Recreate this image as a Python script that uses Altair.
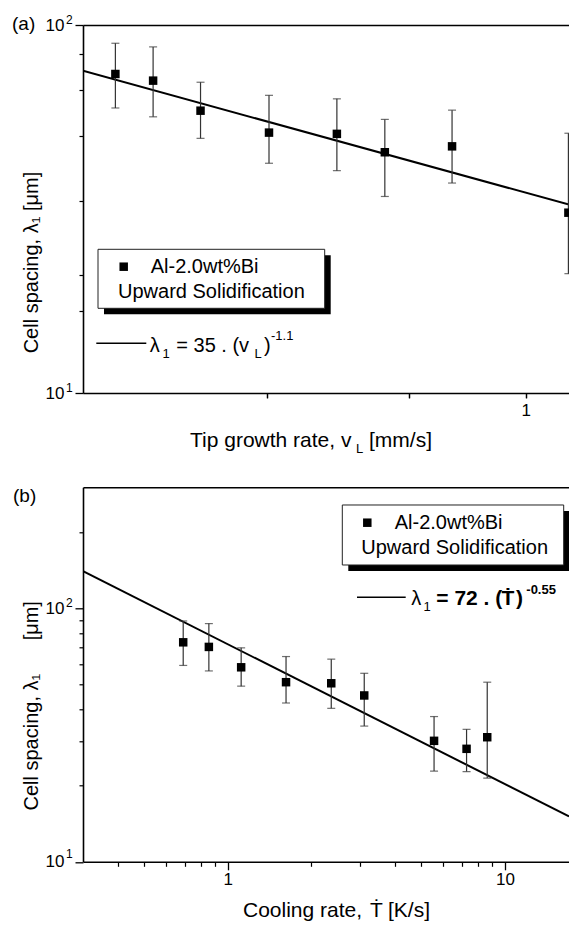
import altair as alt
import pandas as pd

FONT = "Liberation Sans"
NB = "\u00a0"

# ---------------- panel (a) data ----------------
growth_rate = [0.526, 0.558, 0.601, 0.669, 0.744, 0.802, 0.891, 1.069]
spacing_a = [73.6, 70.6, 58.5, 51.0, 50.6, 45.1, 46.8, 30.9]
spacing_a_hi = [89.2, 87.2, 69.9, 64.4, 63.0, 55.4, 58.7, 50.8]
spacing_a_lo = [59.5, 56.3, 49.2, 42.1, 40.2, 34.2, 37.2, 21.1]
fit_a_x = [0.5, 1.070]
fit_a_y = [75.1, 32.5]

# ---------------- panel (b) data ----------------
cooling_rate = [0.690, 0.854, 1.117, 1.622, 2.362, 3.107, 5.551, 7.273, 8.636]
spacing_b = [73.4, 70.4, 58.5, 51.1, 50.6, 45.3, 30.0, 27.9, 31.0]
spacing_b_hi = [89.1, 87.0, 69.8, 64.5, 63.0, 55.4, 37.4, 33.3, 51.1]
spacing_b_lo = [59.5, 56.6, 49.3, 42.3, 40.3, 34.3, 22.8, 22.7, 21.4]
fit_b_x = [0.3, 17.04]
fit_b_y = [140, 15.1]

# ---------------- tick values ----------------
a_x_ticks = [0.6667, 0.8333, 1]
a_y_major = [10, 100]
a_y_minor = [16.7, 20.9, 33.3, 50, 66.7, 83.3]
b_x_major = [1, 10]
b_x_minor = [0.4, 0.5, 0.6, 0.7, 0.8, 0.9, 2, 3, 4, 5, 6, 7, 8, 9]
b_y_major = [10, 100]
b_y_minor = [20, 30, 40, 50, 60, 70, 80, 90, 200]

legend_label = "Al-2.0wt%Bi"
legend_label2 = "Upward Solidification"

W = 486
HA = 368
HB = 374.5

one = pd.DataFrame({"k": [0]})


def txt(x, y, s, size=20, weight="normal", align="left"):
    m = alt.Chart(one).mark_text(
        align=align, baseline="alphabetic", font=FONT, fontSize=size,
        fontWeight=weight, color="black",
    )
    return m.encode(x=alt.value(x), y=alt.value(y), text=alt.value(s))


def rect(x, x2, y, y2, fill, stroke=None, opacity=1):
    kw = dict(fill=fill, opacity=opacity)
    if stroke:
        kw.update(stroke=stroke, strokeWidth=1)
    return alt.Chart(one).mark_rect(**kw).encode(
        x=alt.value(x), x2=alt.value(x2), y=alt.value(y), y2=alt.value(y2))


def panel(xs, ys, xvals, lams, his, los, fx, fy,
          x_major, x_minor, x_label_expr, x_major_size, x_label_pad,
          y_major, y_minor, ytitle, ytitle_y, extras):
    df = pd.DataFrame({"x": xvals, "lam": lams, "hi": his, "lo": los})
    fit = pd.DataFrame({"x": fx, "lam": fy})

    axis_common = dict(domainColor="black", tickColor="black", labelFont=FONT,
                       labelColor="black", labelFontSize=17, grid=False)

    x_major_axis = alt.Axis(values=x_major, tickSize=x_major_size, tickWidth=1.3,
                            domainWidth=1.6, labelExpr=x_label_expr,
                            labelPadding=x_label_pad, title=None,
                            orient="bottom", **axis_common)
    y_major_axis = alt.Axis(values=y_major, tickSize=8, tickWidth=1.3, domainWidth=1.6,
                            labelExpr="'10'", labelPadding=11, orient="left",
                            title=ytitle, titleFont=FONT, titleFontSize=20,
                            titleFontWeight="normal", titleColor="black",
                            titleAngle=270, titleX=-42, titleY=ytitle_y,
                            titleAlign="center", titleBaseline="bottom",
                            **axis_common)
    x_minor_axis = alt.Axis(values=x_minor, tickSize=4.5, tickWidth=1.2, domain=False,
                            labels=False, title=None, orient="bottom", **axis_common)
    y_minor_axis = alt.Axis(values=y_minor, tickSize=4, tickWidth=1.2, domain=False,
                            labels=False, title=None, orient="left", **axis_common)
    top_axis = alt.Axis(orient="top", ticks=False, labels=False, domain=True,
                        domainWidth=1.6, domainColor="black", title=None, grid=False)

    line = alt.Chart(fit).mark_line(color="black", strokeWidth=2, clip=True).encode(
        x=alt.X("x:Q", scale=xs, axis=x_major_axis),
        y=alt.Y("lam:Q", scale=ys, axis=y_major_axis),
    )
    bars = alt.Chart(df).mark_rule(color="#333333", strokeWidth=1.2, clip=True).encode(
        x=alt.X("x:Q", scale=xs, axis=x_minor_axis),
        y=alt.Y("lo:Q", scale=ys, axis=y_minor_axis),
        y2="hi:Q",
    )
    cap_hi = alt.Chart(df).mark_tick(orient="horizontal", size=8, thickness=1.2,
                                     color="#333333", clip=True).encode(
        x=alt.X("x:Q", scale=xs, axis=top_axis),
        y=alt.Y("hi:Q", scale=ys, axis=None),
    )
    cap_lo = alt.Chart(df).mark_tick(orient="horizontal", size=8, thickness=1.2,
                                     color="#333333", clip=True).encode(
        x=alt.X("x:Q", scale=xs, axis=None),
        y=alt.Y("lo:Q", scale=ys, axis=None),
    )
    pts = alt.Chart(df).mark_square(size=72, color="black", opacity=1, clip=True).encode(
        x=alt.X("x:Q", scale=xs, axis=None),
        y=alt.Y("lam:Q", scale=ys, axis=None),
    )
    layers = [line, bars, cap_hi, cap_lo, pts] + extras
    return alt.layer(*layers).resolve_axis(x="independent", y="independent")


# ---------------- panel (a) ----------------
xs_a = alt.Scale(type="log", domain=[0.5, 1.070], nice=False)
ys_a = alt.Scale(type="log", domain=[10, 100], nice=False)

legend_a = [
    rect(-75, 0, -17, 0, "white", opacity=0),   # fixes the outer extent of the figure
    rect(21, 247.7, 230.3, 289.3, "black"),
    rect(15, 241.7, 224.3, 283.3, "white", "#222222"),
    alt.Chart(one).mark_square(size=72, color="black", opacity=1).encode(
        x=alt.value(40.7), y=alt.value(241.7)),
    txt(67.7, 248, legend_label),
    txt(35, 272.7, legend_label2),
    alt.Chart(one).mark_rule(color="black", strokeWidth=1.5).encode(
        x=alt.value(13.3), x2=alt.value(63.3), y=alt.value(318.3)),
    txt(66.7, 326.7, "\u03bb"),
    txt(79.5, 333, "1", size=13),
    txt(93.3, 326.7, "= 35 . (v"),
    txt(171.5, 333, "L", size=13),
    txt(181, 326.7, ")"),
    txt(188, 315, "-1.1", size=13),
    txt(-71, 5, "(a)", size=19),
    txt(-17, -1.5, "2", size=12),
    txt(-17, 367, "1", size=12),
    txt(107, 422, "Tip growth rate, v", size=21),
    txt(273, 428, "L", size=13),
    txt(286, 422, "[mm/s]", size=21),
]

panel_a = panel(xs_a, ys_a, growth_rate, spacing_a, spacing_a_hi, spacing_a_lo,
                fit_a_x, fit_a_y, a_x_ticks, a_x_ticks,
                "datum.value == 1 ? '1' : ''", 5, 4,
                a_y_major, a_y_minor,
                "Cell spacing, \u03bb\u2081 [\u03bcm]", 237, legend_a
                ).properties(width=W, height=HA)

# ---------------- panel (b) ----------------
xs_b = alt.Scale(type="log", domain=[0.3, 17.04], nice=False)
ys_b = alt.Scale(type="log", domain=[10, 300], nice=False)

legend_b = [
    rect(265.3, 486, 23.7, 83.7, "black"),
    rect(259.3, 480.7, 17.7, 77.7, "white", "#222222"),
    alt.Chart(one).mark_square(size=72, color="black", opacity=1).encode(
        x=alt.value(284.3), y=alt.value(35.4)),
    txt(311.7, 42, legend_label),
    txt(278.3, 66.7, legend_label2),
    alt.Chart(one).mark_rule(color="black", strokeWidth=1.5).encode(
        x=alt.value(274), x2=alt.value(322.7), y=alt.value(110)),
    txt(328.3, 117.7, "\u03bb"),
    txt(340.5, 124, "1", size=13),
    txt(353.3, 117.7, "= 72 . (", size=21, weight="bold"),
    txt(418.5, 117.7, "\u1e6a", size=21, weight="bold"),
    txt(433, 117.7, ")", size=21, weight="bold"),
    txt(443.3, 107, "-0.55", size=13, weight="bold"),
    txt(-70, 14.7, "(b)", size=19),
    txt(-17, 119.6, "2", size=12),
    txt(-17, 371, "1", size=12),
    txt(160, 430, "Cooling rate,", size=21),
    txt(287, 430, "\u1e6a", size=21),
    txt(305, 430, "[K/s]", size=21),
]

panel_b = panel(xs_b, ys_b, cooling_rate, spacing_b, spacing_b_hi, spacing_b_lo,
                fit_b_x, fit_b_y, b_x_major, b_x_minor,
                "datum.value == 1 ? '1' : datum.value == 10 ? '10' : ''", 8, 2,
                b_y_major, b_y_minor,
                "Cell spacing, \u03bb\u2081" + NB * 6 + "[\u03bcm]", 218, legend_b
                ).properties(width=W, height=HB)

chart = alt.vconcat(panel_a, panel_b, spacing=94.3, bounds="flush").properties(
    padding={"left": 0, "top": 0, "right": 0, "bottom": 4},
    background="white",
).configure_view(stroke=None)

chart.save("out.html", embed_options={"renderer": "svg", "actions": False})
